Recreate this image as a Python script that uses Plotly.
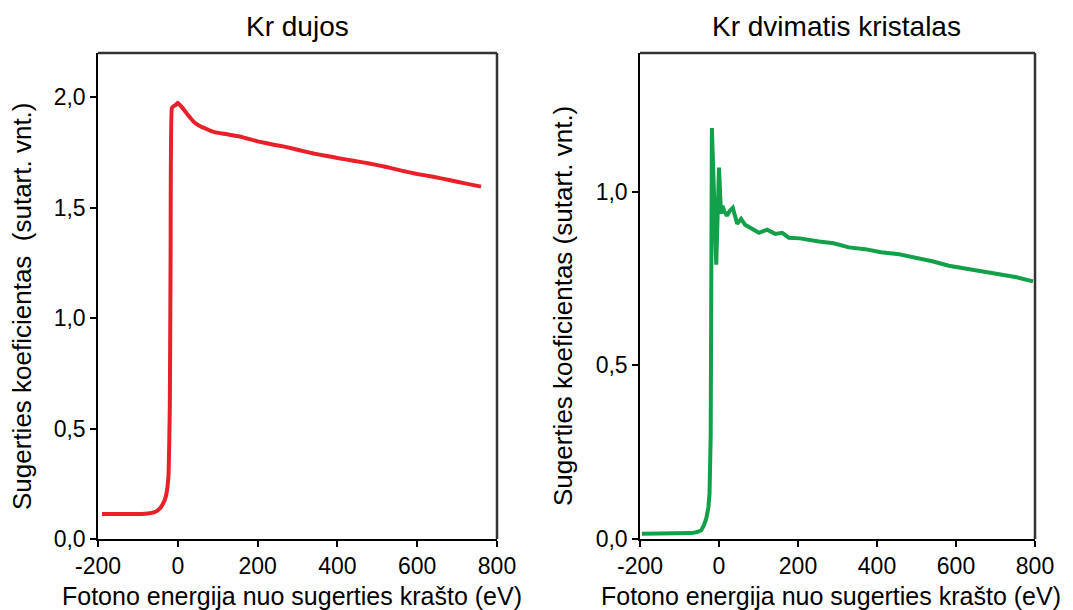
import plotly.graph_objects as go

# Left panel: Kr gas
gas_E = [-190, -150, -120, -90, -75, -60, -50, -42, -37, -32, -27, -23, -20, -18, -15, -10, -5, 0, 5, 10, 17, 25, 32, 42, 55, 67, 80, 92, 110, 130, 155, 180, 200, 240, 270, 305, 340, 370, 400, 440, 480, 520, 555, 600, 640, 680, 720, 760]
gas_mu = [0.113, 0.113, 0.113, 0.113, 0.115, 0.12, 0.13, 0.145, 0.16, 0.18, 0.22, 0.3, 0.6, 1.3, 1.95, 1.96, 1.965, 1.975, 1.965, 1.955, 1.94, 1.92, 1.905, 1.885, 1.87, 1.86, 1.85, 1.842, 1.836, 1.83, 1.822, 1.81, 1.80, 1.785, 1.775, 1.76, 1.745, 1.735, 1.725, 1.712, 1.70, 1.685, 1.67, 1.652, 1.64, 1.625, 1.61, 1.595]

# Right panel: Kr 2D crystal
cry_E = [-195, -150, -100, -70, -55, -45, -38, -32, -27, -24, -21, -18, -7, 0, 5, 9, 13, 20, 27, 35, 46, 56, 66, 75, 84, 101, 122, 142, 160, 177, 205, 230, 253, 290, 329, 370, 410, 456, 500, 540, 582, 620, 660, 709, 750, 795]
cry_mu = [0.015, 0.015, 0.015, 0.017, 0.02, 0.025, 0.04, 0.06, 0.09, 0.13, 0.3, 1.184, 0.79, 1.07, 0.937, 0.96, 0.945, 0.931, 0.945, 0.954, 0.908, 0.922, 0.905, 0.899, 0.894, 0.882, 0.891, 0.879, 0.882, 0.868, 0.866, 0.86, 0.857, 0.852, 0.84, 0.835, 0.826, 0.82, 0.81, 0.80, 0.787, 0.78, 0.772, 0.764, 0.755, 0.742]

x_ticks = [-200, 0, 200, 400, 600, 800]
x_ticktext = ["-200", "0", "200", "400", "600", "800"]
x_title = "Fotono energija nuo sugerties krašto (eV)"
titles = ["Kr dujos", "Kr dvimatis kristalas"]
y_titles = ["Sugerties koeficientas \u00a0(sutart. vnt.)", "Sugerties koeficientas (sutart. vnt.)"]

W, H = 1073, 610
FONT = "Liberation Sans, Arial, sans-serif"

fig = go.Figure()
fig.add_trace(go.Scatter(x=gas_E, y=gas_mu, mode="lines",
                         line=dict(color="#e8202a", width=4, shape="spline", smoothing=0.3),
                         xaxis="x", yaxis="y", showlegend=False))
fig.add_trace(go.Scatter(x=cry_E, y=cry_mu, mode="lines",
                         line=dict(color="#12a04a", width=4),
                         xaxis="x2", yaxis="y2", showlegend=False))

ml, mr, mt, mb = 98, 38, 53, 71
pw = W - ml - mr

def px2dom(a, b):
    return [(a - ml) / pw, (b - ml) / pw]

axis_common = dict(showline=True, linecolor="black", linewidth=1.5, mirror=False,
                   ticks="outside", ticklen=6, tickwidth=1.5, tickcolor="black",
                   showgrid=False, zeroline=False,
                   tickfont=dict(family=FONT, size=23, color="black"))

fig.update_layout(
    width=W, height=H, autosize=False,
    margin=dict(l=ml, r=mr, t=mt, b=mb),
    paper_bgcolor="white", plot_bgcolor="white",
    separators=", ",
    font=dict(family=FONT, color="black"),
    xaxis=dict(domain=px2dom(98, 497), range=[-200, 800], tickvals=x_ticks, ticktext=x_ticktext, anchor="y", **axis_common),
    yaxis=dict(domain=[0, 1], range=[0, 2.2], tickvals=[0, 0.5, 1.0, 1.5, 2.0], tickformat=".1f", anchor="x", **axis_common),
    xaxis2=dict(domain=px2dom(640, 1035), range=[-200, 800], tickvals=x_ticks, ticktext=x_ticktext, anchor="y2", **axis_common),
    yaxis2=dict(domain=[0, 1], range=[0, 1.4], tickvals=[0, 0.5, 1.0], tickformat=".1f", anchor="x2", **axis_common),
)

# top and right frame lines (dark gray)
shapes = []
for xa, ya in [("x", "y"), ("x2", "y2")]:
    shapes.append(dict(type="line", xref=f"{xa} domain", yref=f"{ya} domain", x0=0, x1=1, y0=1, y1=1,
                       line=dict(color="#333333", width=2.5)))
    shapes.append(dict(type="line", xref=f"{xa} domain", yref=f"{ya} domain", x0=1, x1=1, y0=0, y1=1,
                       line=dict(color="#333333", width=2.5)))
fig.update_layout(shapes=shapes)

ann = []

def add_ann(text, cx, cy, size, angle=0):
    ann.append(dict(text=text, x=(cx - ml) / pw, y=((H - cy) - mb) / (H - mt - mb),
                    xref="paper", yref="paper", xanchor="center", yanchor="middle",
                    showarrow=False, textangle=angle,
                    font=dict(family=FONT, size=size, color="black")))

for t, cx in zip(titles, [297, 836]):
    add_ann(t, cx, 27, 28)
for cx in [292, 831]:
    add_ann(x_title, cx, 596, 25)
for t, cx in zip(y_titles, [22, 563]):
    add_ann(t, cx, 306, 26, -90)

fig.update_layout(annotations=ann)

fig.write_html("out.html")
